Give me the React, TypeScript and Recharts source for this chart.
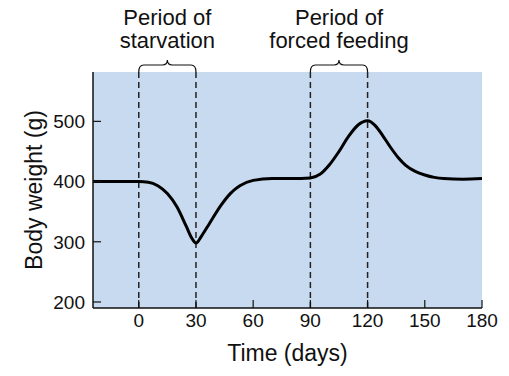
import React from "react";
import {
  LineChart,
  Line,
  XAxis,
  YAxis,
  CartesianGrid,
  ReferenceLine,
} from "recharts";

// body weight curve
const days = [-24, -10, 0, 5, 10, 15, 20, 25, 28, 30, 33, 37, 43, 48, 53, 60, 70, 80, 90, 95, 100, 105, 110, 115, 120, 124, 128, 132, 136, 140, 145, 150, 155, 160, 170, 180];
const weights = [400, 400, 400, 399, 393, 380, 358, 325, 305, 298, 310, 330, 360, 380, 393, 402, 405, 405, 406, 412, 428, 450, 475, 494, 501, 493, 476, 457, 440, 427, 417, 411, 407, 405, 404, 405];

const xTicks = [0, 30, 60, 90, 120, 150, 180];
const yTicks = [200, 300, 400, 500];

// periods marked by dashed lines and braces
const periods = [
  { start: 0, end: 30, lines: ["Period of", "starvation"] },
  { start: 90, end: 120, lines: ["Period of", "forced feeding"] },
];

const data = days.map((d, i) => ({ day: d, weight: weights[i] }));

const FONT = '"Liberation Sans", Arial, Helvetica, sans-serif';
const Y_MAX = 582;

const Brace = (props: any) => {
  const { x1, x2, y1, lines } = props;
  const mid = (x1 + x2) / 2;
  const top = y1 - 7;
  const path = `M${x1},${y1} Q${x1},${top} ${x1 + 5},${top} L${mid - 5},${top} Q${mid},${top} ${mid},${top - 5} Q${mid},${top} ${mid + 5},${top} L${x2 - 5},${top} Q${x2},${top} ${x2},${y1}`;
  return (
    <g>
      <path d={path} fill="none" stroke="#111" strokeWidth={1.2} />
      <text x={mid} y={y1 - 47} textAnchor="middle" fontFamily={FONT} fontSize={22} fill="#111">
        {lines[0]}
      </text>
      <text x={mid} y={y1 - 24} textAnchor="middle" fontFamily={FONT} fontSize={22} fill="#111">
        {lines[1]}
      </text>
    </g>
  );
};

export default function App() {
  return (
    <div style={{ position: "absolute", left: 0, top: 0 }}>
      <LineChart
        width={509}
        height={376}
        data={data}
        margin={{ top: 72, right: 27, bottom: 0, left: 0 }}
      >
        <CartesianGrid fill="#c8daef" stroke="none" horizontal={false} vertical={false} />
        <XAxis
          dataKey="day"
          type="number"
          domain={[-24, 180]}
          ticks={xTicks}
          allowDataOverflow
          height={68}
          tickSize={-8}
          tickMargin={14}
          axisLine={{ stroke: "#111", strokeWidth: 1.5 }}
          tickLine={{ stroke: "#111", strokeWidth: 1.2 }}
          tick={{ fill: "#111", fontSize: 19, fontFamily: FONT }}
          label={(p: any) => (
            <text
              x={p.viewBox.x + p.viewBox.width / 2}
              y={p.viewBox.y + 45}
              textAnchor="middle"
              dominantBaseline="central"
              fontFamily={FONT}
              fontSize={23}
              fill="#111"
            >
              Time (days)
            </text>
          )}
        />
        <YAxis
          type="number"
          domain={[190, Y_MAX]}
          ticks={yTicks}
          allowDataOverflow
          width={93}
          tickSize={-8}
          tickMargin={16}
          axisLine={{ stroke: "#111", strokeWidth: 1.5 }}
          tickLine={{ stroke: "#111", strokeWidth: 1.2 }}
          tick={{ fill: "#111", fontSize: 19, fontFamily: FONT }}
          label={(p: any) => {
            const cx = p.viewBox.x + 34;
            const cy = p.viewBox.y + p.viewBox.height / 2;
            return (
              <text
                x={cx}
                y={cy}
                transform={`rotate(-90 ${cx} ${cy})`}
                textAnchor="middle"
                dominantBaseline="central"
                fontFamily={FONT}
                fontSize={23}
                fill="#111"
              >
                Body weight (g)
              </text>
            );
          }}
        />
        {periods.flatMap((p) => [p.start, p.end]).map((d) => (
          <ReferenceLine
            key={`v${d}`}
            x={d}
            stroke="#222"
            strokeWidth={1.5}
            strokeDasharray="6 4"
          />
        ))}
        {periods.map((p) => (
          <ReferenceLine
            key={`b${p.start}`}
            segment={[
              { x: p.start, y: Y_MAX },
              { x: p.end, y: Y_MAX },
            ]}
            ifOverflow="visible"
            shape={(s: any) => <Brace {...s} lines={p.lines} />}
          />
        ))}
        <Line
          type="monotone"
          dataKey="weight"
          stroke="#000"
          strokeWidth={3}
          dot={false}
          isAnimationActive={false}
        />
      </LineChart>
    </div>
  );
}
